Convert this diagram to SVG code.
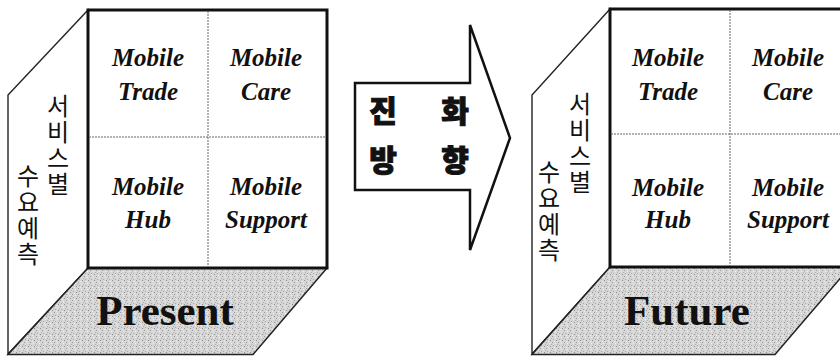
<svg xmlns="http://www.w3.org/2000/svg" width="840" height="356" viewBox="0 0 840 356">
<style>
.frame{fill:#fff;stroke:#111;stroke-width:3;stroke-linejoin:miter}
.div{stroke:#666;stroke-width:1;stroke-dasharray:2 1;fill:none}
.side{fill:#fff;stroke:#222;stroke-width:1.4}
.floor{fill:url(#stip);stroke:#222;stroke-width:1.5}
.cell{font-family:"Liberation Serif",serif;font-style:italic;font-weight:bold;font-size:25px;text-anchor:middle;fill:#111}
.big{font-family:"Liberation Serif",serif;font-weight:bold;font-size:43px;text-anchor:middle;fill:#111}
.vk{font-family:"Noto Sans CJK KR",sans-serif;font-size:24px;writing-mode:vertical-rl;letter-spacing:2px;fill:#111}
.ak{font-family:"Noto Sans CJK KR",sans-serif;font-weight:900;font-size:30px;text-anchor:middle;fill:#111;stroke:#111;stroke-width:1}
.arrow{fill:#fff;stroke:#111;stroke-width:2.5;stroke-linejoin:miter}
</style>
<defs>
<pattern id="stip" width="6" height="6" patternUnits="userSpaceOnUse">
<rect width="6" height="6" fill="#d6d6d6"/>
<rect x="0" y="0" width="1" height="1" fill="#9a9a9a"/>
<rect x="3" y="1" width="1" height="1" fill="#f0f0f0"/>
<rect x="1" y="3" width="1" height="1" fill="#a8a8a8"/>
<rect x="4" y="4" width="1" height="1" fill="#8f8f8f"/>
<rect x="5" y="2" width="1" height="1" fill="#b0b0b0"/>
<rect x="2" y="5" width="1" height="1" fill="#eeeeee"/>
</pattern>
</defs>

<g id="present">
<polygon class="side" points="88,10 8,95 8,354 88,268"/>
<polygon class="floor" points="88,268 327,268 253,354.5 8,354.5"/>
<rect class="frame" x="88" y="10" width="239" height="258"/>
<line class="div" x1="208" y1="11" x2="208" y2="267"/>
<line class="div" x1="89" y1="137" x2="326" y2="137"/>
<text class="cell" x="148" y="66">Mobile</text>
<text class="cell" x="148" y="100">Trade</text>
<text class="cell" x="266" y="66">Mobile</text>
<text class="cell" x="266" y="100">Care</text>
<text class="cell" x="148" y="195">Mobile</text>
<text class="cell" x="148" y="228">Hub</text>
<text class="cell" x="266" y="195">Mobile</text>
<text class="cell" x="266" y="228">Support</text>
<text class="vk" x="58" y="94">서비스별</text>
<text class="vk" x="28" y="164">수요예측</text>
<text class="big" x="165" y="325">Present</text>
</g>

<g id="arrow">
<polygon class="arrow" points="355,83 470,83 470,25 510,138 470,250 470,190 355,190"/>
<text class="ak" x="383" y="122">진</text>
<text class="ak" x="455" y="122">화</text>
<text class="ak" x="383" y="171">방</text>
<text class="ak" x="455" y="171">향</text>
</g>

<g id="future">
<polygon class="side" points="610,9 532,95 532,354 610,267"/>
<polygon class="floor" points="610,267 850,267 775,354.5 532,354.5"/>
<rect class="frame" x="610" y="9" width="240" height="258"/>
<line class="div" x1="730" y1="10" x2="730" y2="266"/>
<line class="div" x1="611" y1="134" x2="849" y2="134"/>
<text class="cell" x="668" y="66">Mobile</text>
<text class="cell" x="668" y="100">Trade</text>
<text class="cell" x="788" y="66">Mobile</text>
<text class="cell" x="788" y="100">Care</text>
<text class="cell" x="668" y="196">Mobile</text>
<text class="cell" x="668" y="228">Hub</text>
<text class="cell" x="788" y="196">Mobile</text>
<text class="cell" x="788" y="228">Support</text>
<text class="vk" x="580" y="92">서비스별</text>
<text class="vk" x="549" y="160">수요예측</text>
<text class="big" x="687" y="325">Future</text>
</g>
</svg>
